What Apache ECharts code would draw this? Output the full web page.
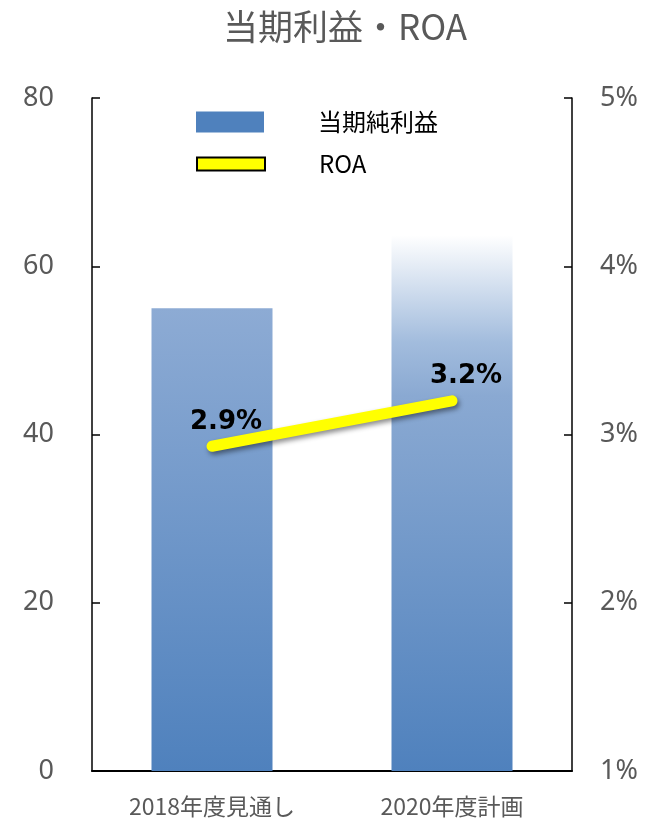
<!DOCTYPE html>
<html>
<head>
<meta charset="utf-8">
<script src="https://cdn.jsdelivr.net/npm/echarts@6/dist/echarts.min.js"></script>
<style>
  html, body { margin: 0; padding: 0; background: #fff; }
  #main { width: 659px; height: 823px; }
</style>
</head>
<body>
<div id="main"></div>
<script>
// 区分・値
var categories = ['2018年度見通し', '2020年度計画'];
var profit = [55, 63.7];
var roa = [2.93, 3.2];

var FONT = '"Noto Sans CJK JP", "Noto Sans", sans-serif';
var NUMFONT = '"Noto Sans", sans-serif';
var GREY = '#595959';

// 棒のグラデーション（2本目は上部が白へフェード）
var barFills = [
  { type: 'linear', x: 0, y: 0, x2: 0, y2: 1,
    colorStops: [{ offset: 0, color: '#8dabd4' }, { offset: 1, color: '#4f81bd' }] },
  { type: 'linear', x: 0, y: 0, x2: 0, y2: 1,
    colorStops: [{ offset: 0, color: '#ffffff' }, { offset: 0.2, color: '#a2bcdd' },
                 { offset: 0.3, color: '#8aa9d2' }, { offset: 1, color: '#4f81bd' }] }
];

var myChart = echarts.init(document.getElementById('main'));

var option = {
  animation: false,
  title: {
    text: '当期利益・ROA',
    left: 218,
    top: 4,
    textStyle: { fontFamily: FONT, fontSize: 35, fontWeight: 'normal', color: GREY }
  },
  legend: [{
    orient: 'vertical',
    left: 191,
    top: 105,
    itemWidth: 68,
    itemHeight: 21,
    textStyle: { fontFamily: FONT, fontSize: 24, color: '#000', padding: [0, 0, 0, 49] },
    data: [{ name: '当期純利益', icon: 'rect', itemStyle: { color: '#4f81bd' } }]
  }, {
    orient: 'vertical',
    left: 191,
    top: 147,
    itemWidth: 68,
    itemHeight: 13,
    textStyle: { fontFamily: FONT, fontSize: 24, color: '#000', padding: [0, 0, 0, 49] },
    data: [{ name: 'ROA', icon: 'rect',
             itemStyle: { color: '#ffff00', opacity: 1, borderColor: '#000', borderWidth: 2 } }]
  }],
  grid: { left: 92, right: 87, top: 98, bottom: 52 },
  xAxis: {
    type: 'category',
    data: categories,
    axisTick: { show: false },
    axisLine: { lineStyle: { color: '#000', width: 2 } },
    axisLabel: { fontFamily: FONT, fontSize: 23, color: GREY, margin: 24 }
  },
  yAxis: [{
    type: 'value',
    min: 0, max: 80, interval: 20,
    splitLine: { show: false },
    axisLine: { show: true, lineStyle: { color: '#000', width: 1.5 } },
    axisTick: { show: true, inside: true, length: 8, lineStyle: { color: '#000', width: 1.5 } },
    axisLabel: { fontFamily: NUMFONT, fontSize: 27, color: GREY, margin: 38 }
  }, {
    type: 'value',
    min: 1, max: 5, interval: 1,
    splitLine: { show: false },
    axisLine: { show: true, lineStyle: { color: '#000', width: 1.5 } },
    axisTick: { show: true, inside: true, length: 8, lineStyle: { color: '#000', width: 1.5 } },
    axisLabel: { fontFamily: NUMFONT, fontSize: 27, color: GREY, margin: 28,
                 formatter: function (v) { return v + '%'; } }
  }],
  series: [{
    name: '当期純利益',
    type: 'bar',
    barWidth: 121,
    data: profit.map(function (v, i) {
      return { value: v, itemStyle: { color: barFills[i] } };
    })
  }, {
    name: 'ROA',
    type: 'line',
    yAxisIndex: 1,
    symbol: 'circle',
    symbolSize: 1,
    itemStyle: { color: 'rgba(255,255,0,0)' },
    data: roa,
    lineStyle: {
      color: '#ffff00', width: 11, cap: 'round',
      shadowColor: 'rgba(0,0,0,0.45)', shadowBlur: 5, shadowOffsetX: 2, shadowOffsetY: 3
    },
    label: {
      show: true,
      position: 'top',
      distance: 11,
      offset: [14, 0],
      fontFamily: '"DejaVu Sans", Verdana, sans-serif',
      fontSize: 26,
      fontWeight: 'bold',
      color: '#000',
      textBorderWidth: 0,
      formatter: function (p) { return p.value.toFixed(1) + '%'; }
    }
  }]
};

myChart.setOption(option);
</script>
</body>
</html>
